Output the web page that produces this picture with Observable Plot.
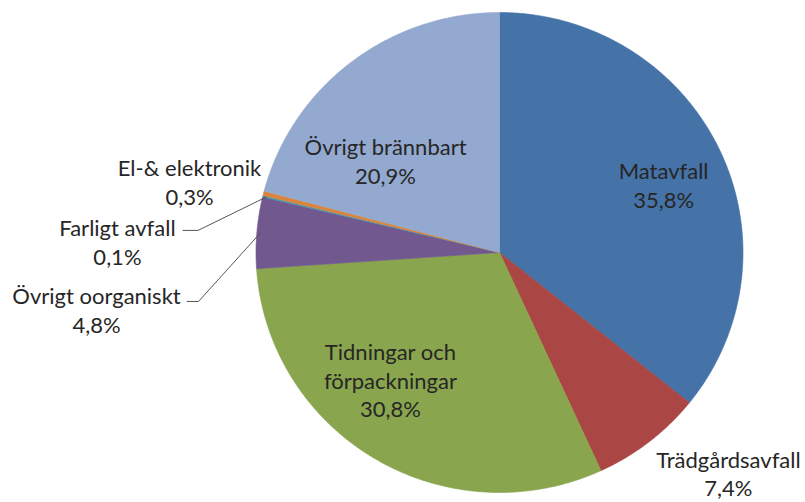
<!DOCTYPE html>
<html>
<head>
<meta charset="utf-8">
<script src="https://cdn.jsdelivr.net/npm/d3@7"></script>
<script src="https://cdn.jsdelivr.net/npm/@observablehq/plot@0.6"></script>
<style>
  html, body { margin: 0; padding: 0; background: #ffffff; }
  #chart { width: 805px; height: 502px; }
</style>
</head>
<body>
<div id="chart"></div>
<script>
// ---- Data ----
const categories = ["Matavfall", "Trädgårdsavfall", "Tidningar och förpackningar", "Övrigt oorganiskt", "Farligt avfall", "El-& elektronik", "Övrigt brännbart"];
const labelLines = ["Matavfall", "Trädgårdsavfall", "Tidningar och\nförpackningar", "Övrigt oorganiskt", "Farligt avfall", "El-& elektronik", "Övrigt brännbart"];
const values = [35.8, 7.4, 30.8, 4.8, 0.1, 0.3, 20.9];
const colors = ["#4572A7", "#AA4643", "#89A54E", "#71588F", "#4198AF", "#DB843D", "#93A9CF"];

// ---- Layout (label placement in pie-radius units) ----
const labelPos = [[0.674, 0.285], [0.940, -0.918], [-0.448, -0.529], [-1.655, -0.2375], [-1.569, 0.046], [-1.273, 0.296], [-0.468, 0.383]];
const leaderKnees = [null, null, null, [[-1.283, -0.204], [-1.236, -0.204]], [[-1.300, 0.092], [-1.238, 0.092]], null, null];

const fmt = v => v.toFixed(1).replace(".", ",") + "%";

const arcs = d3.pie().sort(null).value(d => d)(values);

// slice polygons
const slicePts = [];
arcs.forEach((a, i) => {
  const cat = categories[i];
  slicePts.push({cat, x: 0, y: 0});
  const n = Math.max(2, Math.ceil((a.endAngle - a.startAngle) / (Math.PI / 360)));
  for (let k = 0; k <= n; k++) {
    const t = a.startAngle + (a.endAngle - a.startAngle) * k / n;
    slicePts.push({cat, x: Math.sin(t), y: Math.cos(t)});
  }
  slicePts.push({cat, x: 0, y: 0});
});

// leader lines
const leaderPts = [];
arcs.forEach((a, i) => {
  if (!leaderKnees[i]) return;
  const mid = (a.startAngle + a.endAngle) / 2;
  leaderKnees[i].forEach(p => leaderPts.push({cat: categories[i], x: p[0], y: p[1]}));
  leaderPts.push({cat: categories[i], x: Math.sin(mid) * 0.985, y: Math.cos(mid) * 0.985});
});

const labels = categories.map((c, i) => ({
  cat: c,
  text: labelLines[i] + "\n" + fmt(values[i]),
  x: labelPos[i][0],
  y: labelPos[i][1]
}));

const chart = Plot.plot({
  width: 805,
  height: 502,
  marginLeft: 255.5,
  marginRight: 62.5,
  marginTop: 12,
  marginBottom: 10,
  x: {domain: [-1, 1], axis: null},
  y: {domain: [-1, 1], axis: null},
  color: {domain: categories, range: colors},
  style: {background: "#ffffff", fontFamily: "Lato, 'Open Sans', sans-serif", overflow: "visible"},
  marks: [
    Plot.line(slicePts, {x: "x", y: "y", z: "cat", fill: "cat", stroke: "cat", strokeWidth: 0.6, curve: "linear"}),
    Plot.line(leaderPts, {x: "x", y: "y", z: "cat", stroke: "#555555", strokeWidth: 1}),
    Plot.text(labels, {x: "x", y: "y", text: "text", fill: "#262626", fontSize: 22, lineHeight: 1.3, lineAnchor: "middle", textAnchor: "middle"})
  ]
});

document.getElementById("chart").appendChild(chart);
</script>
</body>
</html>
